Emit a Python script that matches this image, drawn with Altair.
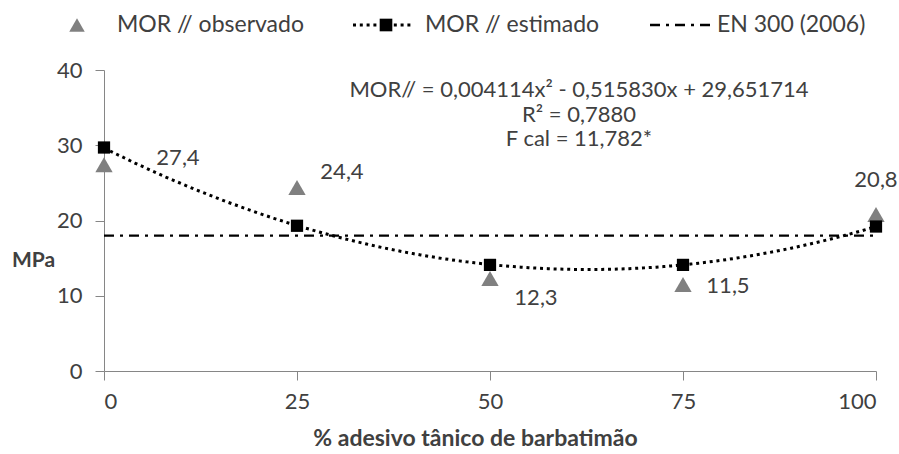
import altair as alt
import pandas as pd

# Percent of tannin adhesive (barbatimão) in the glue mix
pct = [0, 25, 50, 75, 100]
# MOR observed (MPa)
mor_observado = [27.4, 24.4, 12.3, 11.5, 20.8]
# MOR estimated by the quadratic model (MPa)
mor_estimado = [29.7, 19.3, 14.1, 14.1, 19.2]
# EN 300 (2006) minimum requirement (MPa)
en300 = 18

x_ticks = [0, 25, 50, 75, 100]
y_ticks = [0, 10, 20, 30, 40]

FONT = "Lato"
TXT = "#404040"
AX = "#868686"
FS = 22
LFS = 23

W, H = 772, 301

obs = pd.DataFrame({"pct": pct, "mor": mor_observado})
est = pd.DataFrame({"pct": pct, "mor": mor_estimado})
ref = pd.DataFrame({"x0": [0], "x1": [100], "mor": [en300]})
one = pd.DataFrame({"k": [0]})

xs = alt.Scale(domain=[0, 100], nice=False, zero=False)
ys = alt.Scale(domain=[0, 40], nice=False)

x_axis = alt.Axis(values=x_ticks, title="% adesivo tânico de barbatimão", grid=False,
                  tickSize=9, tickColor=AX, domainColor=AX, labelPadding=11,
                  labelFont=FONT, labelFontSize=FS, labelColor=TXT,
                  titleFont=FONT, titleFontSize=23, titleFontWeight="bold", titleColor=TXT,
                  titleX=371, titleY=67, titleBaseline="middle", titleAlign="center")
y_axis = alt.Axis(values=y_ticks, title="MPa", grid=False,
                  tickSize=9, tickColor=AX, domainColor=AX, labelPadding=13,
                  labelFont=FONT, labelFontSize=FS, labelColor=TXT,
                  titleFont=FONT, titleFontSize=21, titleFontWeight="bold", titleColor=TXT,
                  titleAngle=0, titleX=-71, titleY=190, titleAlign="center", titleBaseline="middle")

# EN 300 reference line (dash-dot)
en_line = alt.Chart(ref).mark_rule(color="black", strokeWidth=2.3, strokeDash=[10, 6, 3, 6]).encode(
    x=alt.X("x0:Q", scale=xs, axis=x_axis),
    x2="x1:Q",
    y=alt.Y("mor:Q", scale=ys, axis=y_axis),
)

# Quadratic trend fitted to the observed values (dotted)
trend = alt.Chart(obs).transform_regression(
    "pct", "mor", method="poly", order=2, extent=[0, 100]
).mark_line(color="black", strokeWidth=3, strokeDash=[3, 3.8]).encode(
    x=alt.X("pct:Q", scale=xs), y=alt.Y("mor:Q", scale=ys)
)

tri = alt.Chart(obs).mark_point(shape="triangle-up", filled=True, color="#808080", size=300, opacity=1).encode(
    x=alt.X("pct:Q", scale=xs), y=alt.Y("mor:Q", scale=ys)
)

sq = alt.Chart(est).mark_point(shape="square", filled=True, color="black", size=150, opacity=1).encode(
    x=alt.X("pct:Q", scale=xs), y=alt.Y("mor:Q", scale=ys)
)

# Value labels next to the observed points, with comma decimal separator
label_offsets = {0: (74, -7), 25: (45, -15), 50: (46, 20), 75: (45, 2), 100: (0, -34)}
labels = []
for p, (dx, dy) in label_offsets.items():
    labels.append(
        alt.Chart(obs).transform_filter(alt.datum.pct == p)
        .transform_calculate(lab="replace(format(datum.mor, '.1f'), '.', ',')")
        .mark_text(font=FONT, fontSize=FS, color=TXT, align="center", baseline="middle", dx=dx, dy=dy)
        .encode(x=alt.X("pct:Q", scale=xs), y=alt.Y("mor:Q", scale=ys), text="lab:N")
    )

# Regression equation annotation
eq_lines = ["MOR// = 0,004114x² - 0,515830x + 29,651714", "R² = 0,7880", "F cal = 11,782*"]
eq_layers = []
for i, t in enumerate(eq_lines):
    eq_layers.append(
        alt.Chart(one).mark_text(font=FONT, fontSize=FS, color=TXT, align="center", baseline="middle")
        .encode(x=alt.value(475), y=alt.value(20 + 24.5 * i), text=alt.value(t))
    )

# Legend row along the top
LY = -45
leg = [
    alt.Chart(one).mark_point(shape="triangle-up", filled=True, color="#808080", size=240, opacity=1)
    .encode(x=alt.value(-27), y=alt.value(LY)),
    alt.Chart(one).mark_text(font=FONT, fontSize=LFS, color=TXT, align="left", baseline="middle")
    .encode(x=alt.value(13), y=alt.value(LY), text=alt.value("MOR // observado")),
    alt.Chart(one).mark_rule(color="black", strokeWidth=3, strokeDash=[3, 3.8])
    .encode(x=alt.value(249), x2=alt.value(309), y=alt.value(LY)),
    alt.Chart(one).mark_point(shape="square", filled=True, color="black", size=160, opacity=1)
    .encode(x=alt.value(282), y=alt.value(LY)),
    alt.Chart(one).mark_text(font=FONT, fontSize=LFS, color=TXT, align="left", baseline="middle")
    .encode(x=alt.value(321), y=alt.value(LY), text=alt.value("MOR // estimado")),
    alt.Chart(one).mark_rule(color="black", strokeWidth=2.3, strokeDash=[10, 6, 3, 6])
    .encode(x=alt.value(546), x2=alt.value(606), y=alt.value(LY)),
    alt.Chart(one).mark_text(font=FONT, fontSize=LFS, color=TXT, align="left", baseline="middle")
    .encode(x=alt.value(613), y=alt.value(LY), text=alt.value("EN 300 (2006)")),
]

chart = alt.layer(en_line, trend, tri, sq, *labels, *eq_layers, *leg).properties(
    width=W, height=H,
    autosize=alt.AutoSizeParams(type="none"),
    padding={"left": 104, "top": 70, "right": 23, "bottom": 83},
    background="white",
).configure_view(stroke=None)

chart.save("out.html", embed_options={"renderer": "svg", "actions": False})
